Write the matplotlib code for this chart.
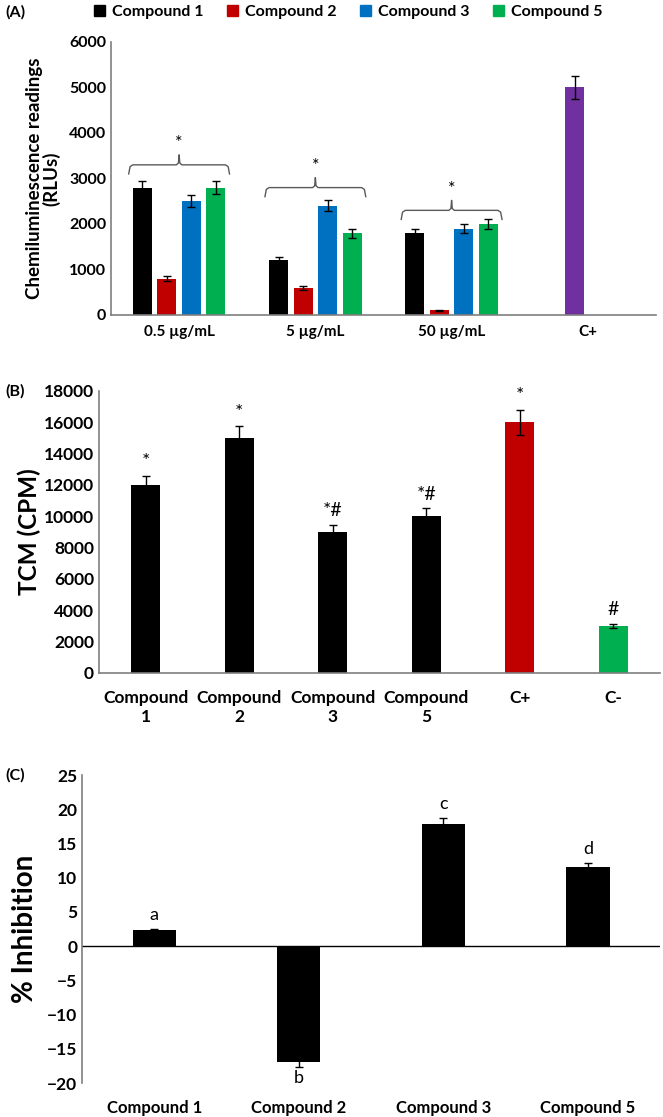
import numpy as np
import matplotlib
matplotlib.use("Agg")
import matplotlib.pyplot as plt
from matplotlib.patches import Patch

plt.rcParams["font.family"] = ["Lato", "DejaVu Sans"]

# panel A data
conc_labels = ["0.5 µg/mL", "5 µg/mL", "50 µg/mL", "C+"]
series_names = ["Compound 1", "Compound 2", "Compound 3", "Compound 5"]
series_colors = ["#000000", "#C00000", "#0070C0", "#00B050"]
a_vals = [
    [2800, 1200, 1800],
    [800, 600, 100],
    [2500, 2400, 1900],
    [2800, 1800, 2000],
]
a_errs = [
    [150, 80, 100],
    [50, 40, 10],
    [130, 120, 100],
    [150, 100, 100],
]
cpos_val = 5000
cpos_err = 250
brace_levels = [3300, 2800, 2300]

# panel B data
b_labels = ["Compound\n1", "Compound\n2", "Compound\n3", "Compound\n5", "C+", "C-"]
b_vals = [12000, 15000, 9000, 10000, 16000, 3000]
b_errs = [600, 750, 450, 500, 800, 150]
b_colors = ["#000000", "#000000", "#000000", "#000000", "#C00000", "#00B050"]
b_marks = ["*", "*", "*#", "*#", "*", "#"]

# panel C data
c_labels = ["Compound 1", "Compound 2", "Compound 3", "Compound 5"]
c_vals = [2.4, -16.9, 17.9, 11.5]
c_errs = [0.15, 0.8, 0.9, 0.7]
c_marks = ["a", "b", "c", "d"]

fig = plt.figure(figsize=(6.63, 11.17), dpi=100)
ekw = dict(ecolor="black", elinewidth=1, capthick=1)

def style_axis(ax):
    for s in ["top", "right"]:
        ax.spines[s].set_visible(False)
    for s in ["left", "bottom"]:
        ax.spines[s].set_color("#7f7f7f")
        ax.spines[s].set_linewidth(1.2)
    ax.tick_params(length=0)

# ---------------- (A)
axA = fig.add_axes([0.1674, 0.718, 0.822, 0.2444])
style_axis(axA)
pitch = 0.18
width = 0.14
x = np.arange(3)
for i, (vals, errs, col) in enumerate(zip(a_vals, a_errs, series_colors)):
    off = (i - 1.5) * pitch
    axA.bar(x + off, vals, width, color=col, yerr=errs, capsize=3, error_kw=ekw)
axA.bar(3 - 0.095, cpos_val, width, color="#7030A0", yerr=cpos_err, capsize=3,
        error_kw=ekw)

# curly braces over each group
for g, lvl in enumerate(brace_levels):
    x0 = g - 1.5 * pitch - width / 2 - 0.03
    x1 = g + 1.5 * pitch + width / 2 + 0.03
    xc = g
    bx = [x0, x0 + 0.01, x0 + 0.03, xc - 0.02, xc - 0.005, xc,
          xc + 0.005, xc + 0.02, x1 - 0.03, x1 - 0.01, x1]
    by = [lvl - 200, lvl - 40, lvl, lvl, lvl + 40, lvl + 220,
          lvl + 40, lvl, lvl, lvl - 40, lvl - 200]
    axA.plot(bx, by, color="#595959", lw=1)
    axA.text(xc, lvl + 300, "*", ha="center", va="bottom", fontsize=13)

axA.set_xlim(-0.5, 3.5)
axA.set_ylim(0, 6000)
axA.set_yticks(np.arange(0, 6001, 1000))
axA.set_xticks(np.arange(4))
axA.set_xticklabels(conc_labels, fontsize=11, fontweight="bold")
axA.tick_params(axis="x", pad=7)
for lab in axA.get_yticklabels():
    lab.set_fontsize(11.5)
    lab.set_fontweight("bold")
axA.set_ylabel("Chemiluminescence readings\n(RLUs)", fontsize=13.5,
               fontweight="bold", labelpad=6, linespacing=1.0)

handles = [Patch(color=c) for c in series_colors]
fig.legend(handles, series_names, loc="center left", bbox_to_anchor=(0.12, 0.989),
           ncol=4, frameon=False, handlelength=0.7, handleheight=0.7,
           handletextpad=0.4, columnspacing=1.5,
           prop=dict(size=11.5, weight="bold"))
fig.text(0.008, 0.989, "(A)", fontsize=11.5, fontweight="bold", va="center")

# ---------------- (B)
axB = fig.add_axes([0.1493, 0.3975, 0.846, 0.2525])
style_axis(axB)
xb = np.arange(len(b_vals))
axB.bar(xb, b_vals, 0.31, color=b_colors, yerr=b_errs, capsize=3, error_kw=ekw)
for xi, v, e, m in zip(xb, b_vals, b_errs, b_marks):
    axB.text(xi, v + e + 350, m, ha="center", va="bottom", fontsize=14)
axB.set_xlim(-0.5, len(b_vals) - 0.5)
axB.set_ylim(0, 18000)
axB.set_yticks(np.arange(0, 18001, 2000))
axB.set_xticks(xb)
axB.set_xticklabels(b_labels, fontsize=12.5, fontweight="bold", linespacing=1.25)
axB.tick_params(axis="x", pad=12)
for lab in axB.get_yticklabels():
    lab.set_fontsize(12.5)
    lab.set_fontweight("bold")
axB.set_ylabel("TCM (CPM)", fontsize=17.5, fontweight="bold", labelpad=2)
fig.text(0.008, 0.650, "(B)", fontsize=11.5, fontweight="bold", va="center")

# ---------------- (C)
axC = fig.add_axes([0.1237, 0.0304, 0.872, 0.2757])
style_axis(axC)
axC.spines["bottom"].set_visible(False)
xc_ = np.arange(len(c_vals))
axC.bar(xc_, c_vals, 0.3, color="black", yerr=c_errs, capsize=3, error_kw=ekw)
axC.axhline(0, color="black", lw=1)
for xi, v, e, m in zip(xc_, c_vals, c_errs, c_marks):
    if v >= 0:
        axC.text(xi, v + e + 0.8, m, ha="center", va="bottom", fontsize=13)
    else:
        axC.text(xi, v - e - 0.4, m, ha="center", va="top", fontsize=13)
axC.set_xlim(-0.5, len(c_vals) - 0.5)
axC.set_ylim(-20, 25)
axC.set_yticks(np.arange(-20, 26, 5))
axC.set_xticks(xc_)
axC.set_xticklabels(c_labels, fontsize=12, fontweight="bold")
axC.tick_params(axis="x", pad=12)
for lab in axC.get_yticklabels():
    lab.set_fontsize(12.5)
    lab.set_fontweight("bold")
axC.set_ylabel("% Inhibition", fontsize=20, fontweight="bold", labelpad=6)
fig.text(0.008, 0.306, "(C)", fontsize=11.5, fontweight="bold", va="center")

fig.savefig("out.png", dpi=100)
